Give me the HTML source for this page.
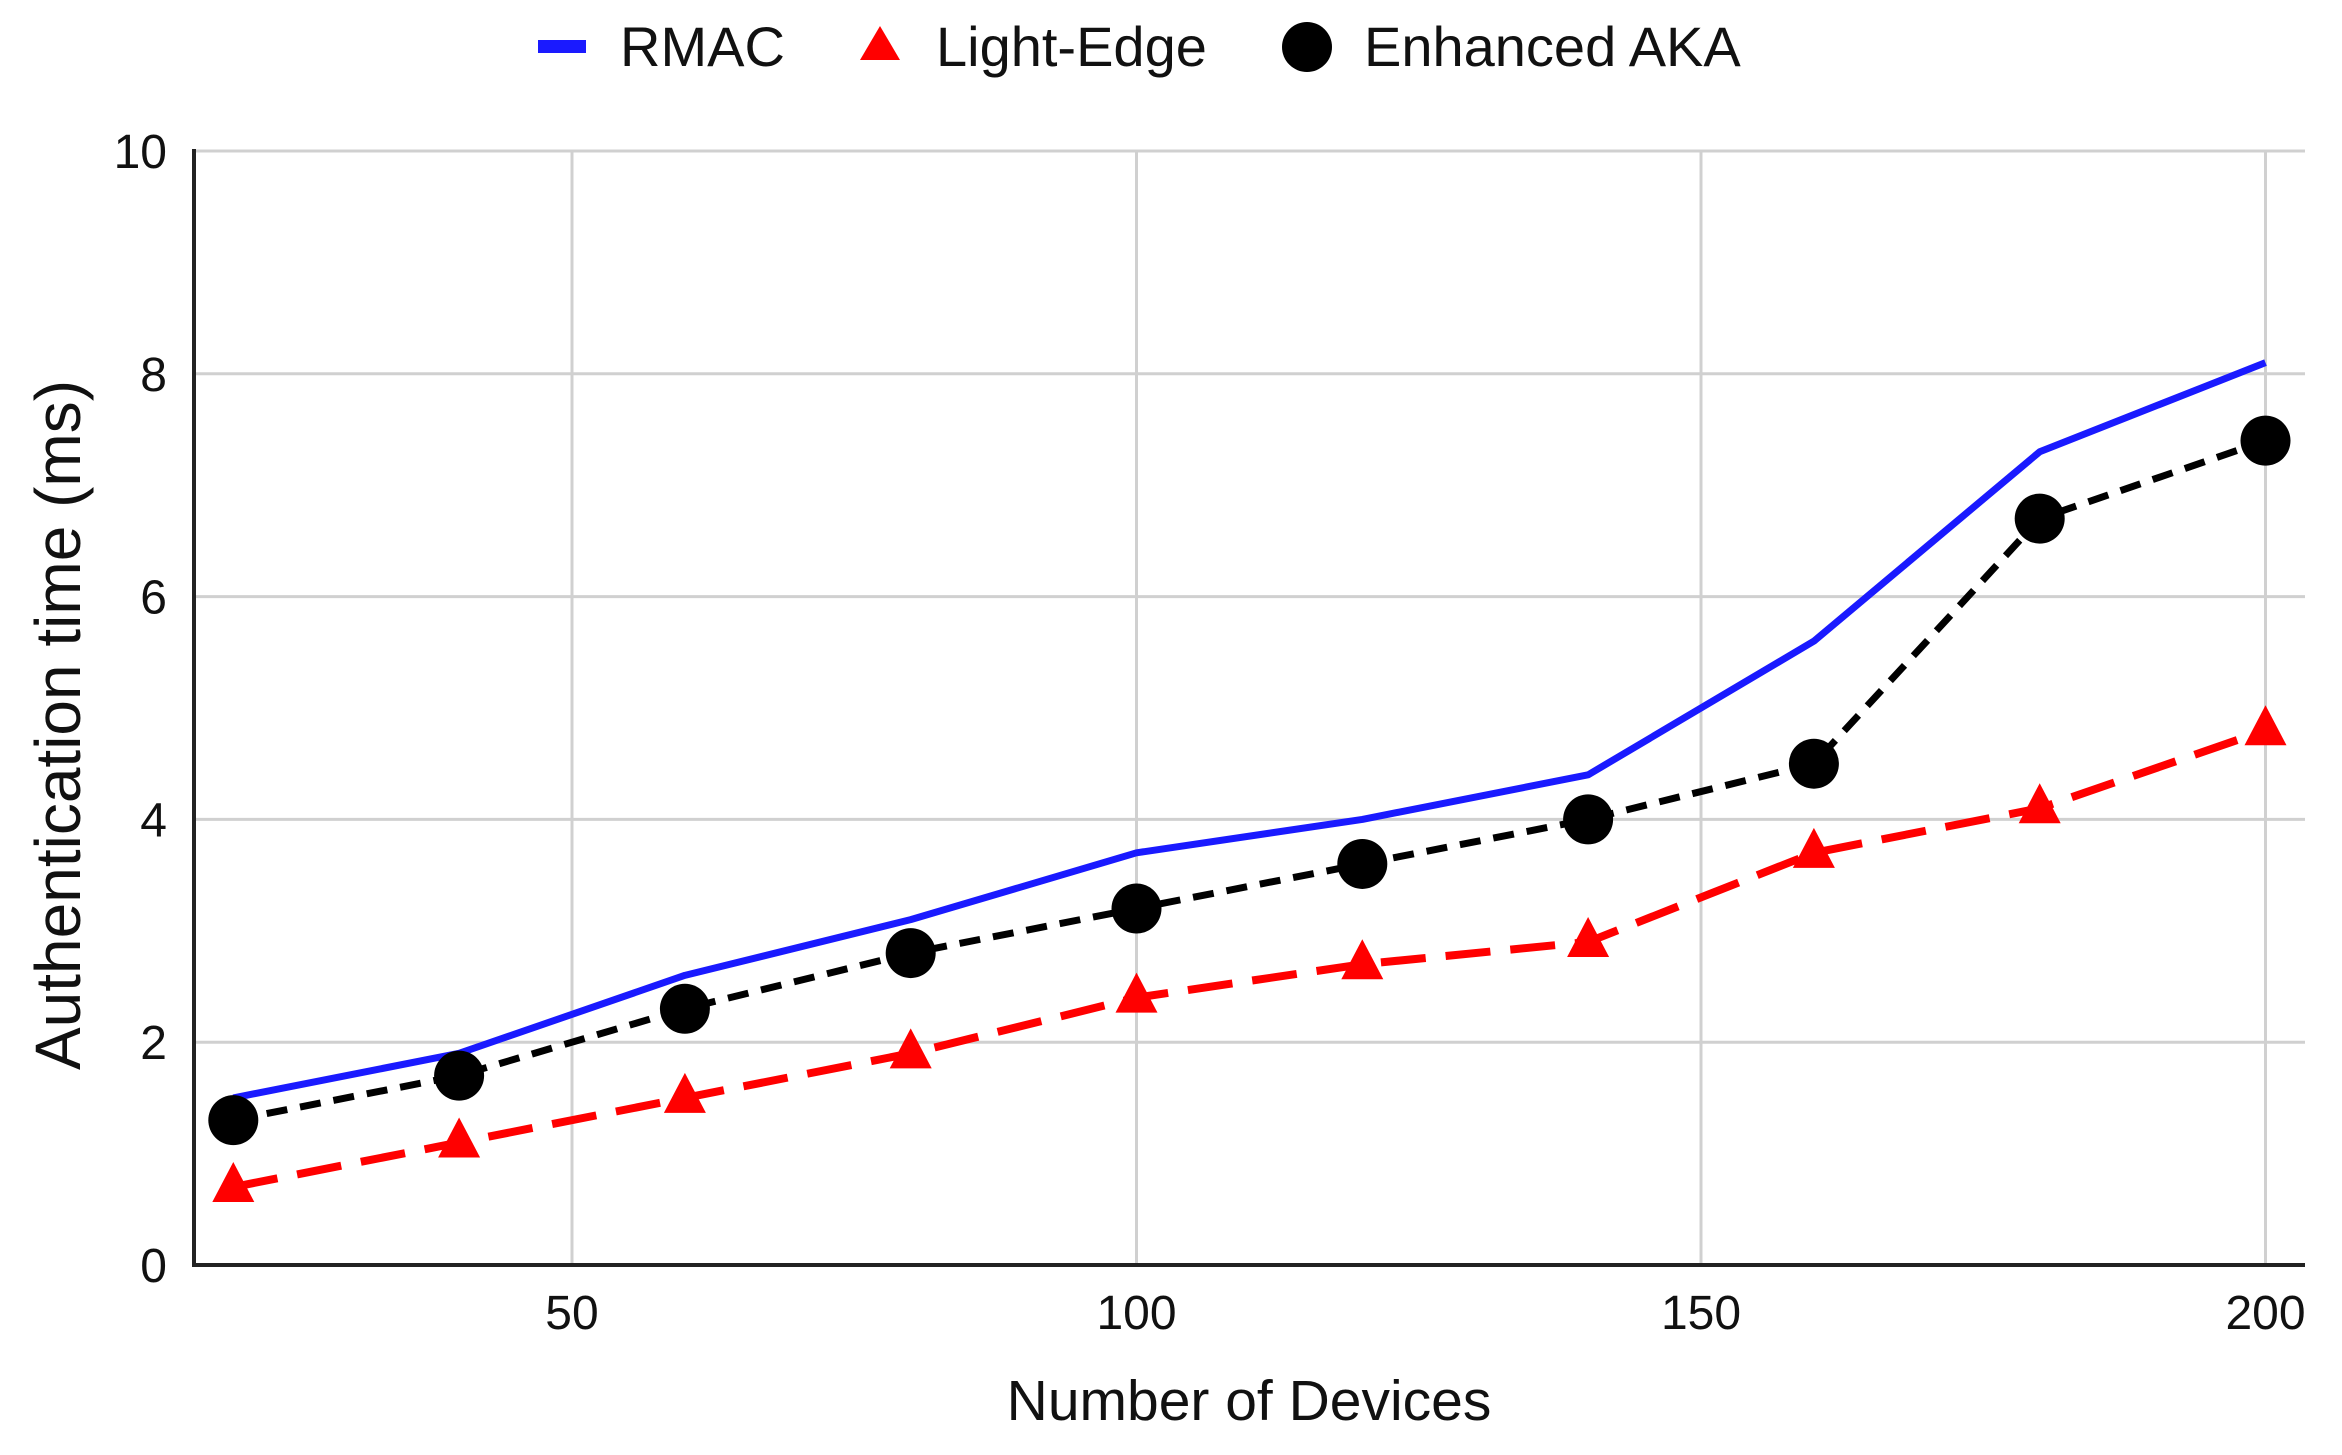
<!DOCTYPE html>
<html><head><meta charset="utf-8"><style>
html,body{margin:0;padding:0;background:#fff;}
svg{display:block;font-family:"Liberation Sans",Arial,sans-serif;}
</style></head><body>
<svg id="c" width="2342" height="1455" xmlns="http://www.w3.org/2000/svg">
<rect width="2342" height="1455" fill="#fff"/>
<g id="grid" stroke="#d0d0d0" stroke-width="3"></g>
<line x1="194" y1="1265" x2="2305" y2="1265" stroke="#222" stroke-width="4"/>
<line x1="194" y1="149" x2="194" y2="1267" stroke="#222" stroke-width="4"/>
<g id="ticks" font-size="48" fill="#111"></g>
<g id="series"></g>
<!-- legend -->
<rect x="538" y="40" width="48" height="13" fill="#1a1aff"/>
<text x="620" y="66" font-size="56" fill="#111">RMAC</text>
<polygon points="880,26 860,60 900,60" fill="#f00"/>
<text x="936" y="66" font-size="56" fill="#111">Light-Edge</text>
<circle cx="1307" cy="47" r="25" fill="#000"/>
<text x="1364" y="66" font-size="56" fill="#111">Enhanced AKA</text>
<text x="1249" y="1420" font-size="57" fill="#111" text-anchor="middle">Number of Devices</text>
<text transform="translate(80,725) rotate(-90)" font-size="64" fill="#111" text-anchor="middle">Authentication time (ms)</text>
</svg>
<script>
var NS="http://www.w3.org/2000/svg";
function X(v){return 7.5+v*11.29;}
function Y(v){return 1265-v*111.4;}
function el(t,a,p){var e=document.createElementNS(NS,t);for(var k in a)e.setAttribute(k,a[k]);p.appendChild(e);return e;}
var g=document.getElementById('grid'),tk=document.getElementById('ticks'),s=document.getElementById('series');
[2,4,6,8,10].forEach(function(v){el('line',{x1:194,x2:2305,y1:Y(v),y2:Y(v)},g);});
[50,100,150,200].forEach(function(v){el('line',{x1:X(v),x2:X(v),y1:151,y2:1265},g);});
[0,2,4,6,8,10].forEach(function(v){var t=el('text',{x:167,y:Y(v)+17,'text-anchor':'end'},tk);t.textContent=v;});
[50,100,150,200].forEach(function(v){var t=el('text',{x:X(v),y:1329,'text-anchor':'middle'},tk);t.textContent=v;});
var xs=[20,40,60,80,100,120,140,160,180,200];
var rm=[1.5,1.9,2.6,3.1,3.7,4.0,4.4,5.6,7.3,8.1];
var le=[0.7,1.1,1.5,1.9,2.4,2.7,2.9,3.7,4.1,4.8];
var ea=[1.3,1.7,2.3,2.8,3.2,3.6,4.0,4.5,6.7,7.4];
function pts(d){return xs.map(function(x,i){return X(x)+','+Y(d[i]);}).join(' ');}
el('polyline',{points:pts(rm),fill:'none',stroke:'#1a1aff','stroke-width':7,'stroke-linejoin':'round'},s);
el('polyline',{points:pts(le),fill:'none',stroke:'#f00','stroke-width':8,'stroke-dasharray':'45 20'},s);
el('polyline',{points:pts(ea),fill:'none',stroke:'#000','stroke-width':7,'stroke-dasharray':'21 13'},s);
xs.forEach(function(x,i){var cx=X(x),cy=Y(le[i]);
 el('polygon',{points:cx+','+(cy-25)+' '+(cx-21)+','+(cy+15)+' '+(cx+21)+','+(cy+15),fill:'#f00'},s);});
xs.forEach(function(x,i){el('circle',{cx:X(x),cy:Y(ea[i]),r:25,fill:'#000'},s);});
</script>
</body></html>
